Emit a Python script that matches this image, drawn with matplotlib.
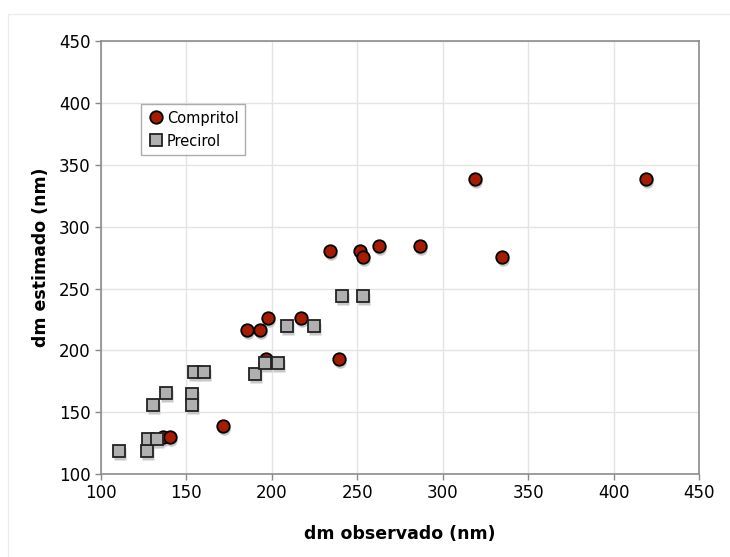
import matplotlib
matplotlib.use('Agg')
import matplotlib.pyplot as plt
import matplotlib.transforms as mtransforms
from matplotlib.patches import Rectangle

# Data (dm observado vs dm estimado, nm)
compritol_x = [136.4, 140.7, 171.7, 185.7, 193.0, 196.5, 197.6, 217.0, 233.9,
               239.6, 251.5, 253.6, 262.8, 286.9, 318.6, 334.6, 419.1]
compritol_y = [129.7, 129.7, 138.8, 216.5, 216.5, 193.3, 226.4, 226.4, 280.3,
               193.0, 280.3, 275.2, 284.3, 284.3, 338.2, 275.2, 338.2]

precirol_x = [110.7, 127.0, 127.6, 132.9, 130.5, 138.4, 153.6, 153.3, 154.7,
              160.3, 190.1, 196.0, 203.5, 209.1, 224.6, 240.9, 253.4]
precirol_y = [118.6, 118.6, 128.5, 128.5, 155.8, 165.2, 164.7, 155.8, 182.2,
              182.2, 180.7, 190.1, 190.1, 219.4, 219.4, 244.1, 244.1]

ticks = [100, 150, 200, 250, 300, 350, 400, 450]

plt.rcParams['font.family'] = ['DejaVu Sans']

fig = plt.figure(figsize=(7.3, 5.57), dpi=100)
ax = fig.add_axes([0.138, 0.149, 0.82, 0.777])

# faint outer frame like the spreadsheet chart area
fig.patches.append(Rectangle((0.011, -0.01), 1.0, 0.985, transform=fig.transFigure,
                             fill=False, edgecolor='#ececec', linewidth=1))

# drop shadows under markers
shadow = mtransforms.offset_copy(ax.transData, fig=fig, x=1, y=-3, units='dots')
ax.plot(precirol_x, precirol_y, 's', ms=8.6, color='#c8c8c8', mec='none',
        transform=shadow, zorder=2)
ax.plot(compritol_x, compritol_y, 'o', ms=9, color='#c8c8c8', mec='none',
        transform=shadow, zorder=2)

ax.plot(compritol_x, compritol_y, 'o', ms=9, color='#a61c00', mec='black',
        mew=1.3, label='Compritol', zorder=3)
ax.plot(precirol_x, precirol_y, 's', ms=8.6, color='#b0b0b0', mec='#222222',
        mew=1.3, label='Precirol', zorder=4)

ax.set_xlim(100, 450)
ax.set_ylim(100, 450)
ax.set_xticks(ticks)
ax.set_yticks(ticks)
ax.tick_params(labelsize=12, length=4, width=1, color='#888888', direction='out')
ax.grid(True, color='#e4e4e4', linewidth=1)
ax.set_axisbelow(True)
for sp in ax.spines.values():
    sp.set_color('#8c8c8c')
    sp.set_linewidth(1.2)

ax.set_xlabel('dm observado (nm)', fontsize=12.5, fontweight='bold', labelpad=16)
ax.set_ylabel('dm estimado (nm)', fontsize=12.5, fontweight='bold', labelpad=6)

leg = ax.legend(loc='upper left', bbox_to_anchor=(0.068, 0.855), fontsize=10.5,
                frameon=True, fancybox=False, edgecolor='#999999',
                handletextpad=0.2, handlelength=1.1, borderpad=0.45,
                labelspacing=0.55, borderaxespad=0)
leg.get_frame().set_linewidth(1)

fig.savefig('out.png', dpi=100)
